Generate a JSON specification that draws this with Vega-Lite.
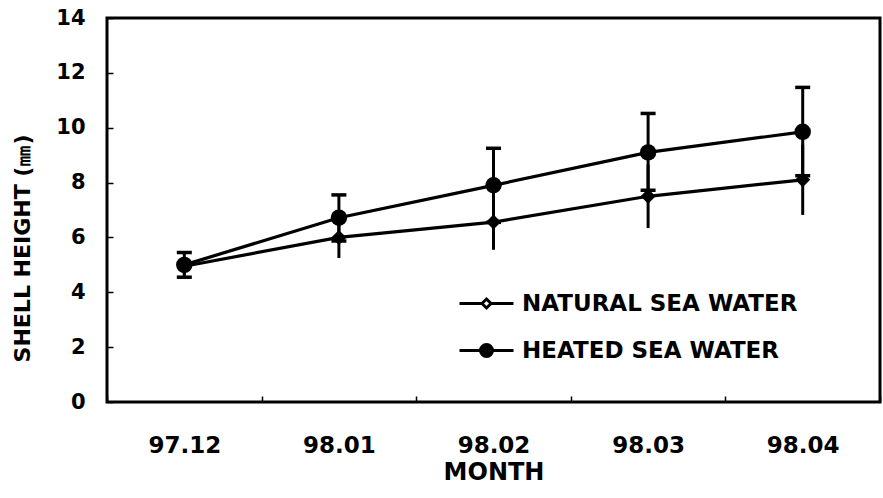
{
  "$schema": "https://vega.github.io/schema/vega-lite/v6.json",
  "autosize": {"type": "none"},
  "padding": {"left": 107, "top": 18, "right": 3, "bottom": 96},
  "width": 773,
  "height": 384,
  "background": "white",
  "config": {
    "view": {"stroke": "black", "strokeWidth": 3},
    "axis": {"grid": false, "domain": false, "labelFont": "DejaVu Sans", "titleFont": "DejaVu Sans", "labelFontWeight": "bold", "titleFontWeight": "bold", "labelColor": "black", "titleColor": "black", "tickColor": "black"},
    "legend": {"labelFont": "DejaVu Sans", "labelFontWeight": "bold", "labelColor": "black", "symbolStrokeColor": "black", "symbolStrokeWidth": 3, "symbolOpacity": 1}
  },
  "data": {
    "values": [
      {"month": "97.12", "series": "HEATED SEA WATER", "mean": 5.0, "lo": 4.55, "hi": 5.45},
      {"month": "98.01", "series": "HEATED SEA WATER", "mean": 6.72, "lo": 5.87, "hi": 7.55},
      {"month": "98.02", "series": "HEATED SEA WATER", "mean": 7.9, "lo": 6.55, "hi": 9.25},
      {"month": "98.03", "series": "HEATED SEA WATER", "mean": 9.1, "lo": 7.72, "hi": 10.52},
      {"month": "98.04", "series": "HEATED SEA WATER", "mean": 9.85, "lo": 8.25, "hi": 11.47},
      {"month": "97.12", "series": "NATURAL SEA WATER", "mean": 4.95, "lo": 4.65, "hi": 5.25},
      {"month": "98.01", "series": "NATURAL SEA WATER", "mean": 6.0, "lo": 5.25, "hi": 6.75},
      {"month": "98.02", "series": "NATURAL SEA WATER", "mean": 6.56, "lo": 5.55, "hi": 7.55},
      {"month": "98.03", "series": "NATURAL SEA WATER", "mean": 7.5, "lo": 6.34, "hi": 8.66},
      {"month": "98.04", "series": "NATURAL SEA WATER", "mean": 8.1, "lo": 6.82, "hi": 9.38}
    ]
  },
  "encoding": {
    "x": {
      "field": "month", "type": "nominal",
      "scale": {"paddingInner": 0, "paddingOuter": 0},
      "axis": {
        "title": "MONTH", "labelAngle": 0, "labelFontSize": 23, "titleFontSize": 24,
        "tickBand": "extent", "tickSize": -6, "tickWidth": 1.5,
        "labelBaseline": "alphabetic", "labelPadding": 56,
        "titleBaseline": "alphabetic", "titleY": 77
      }
    },
    "y": {
      "type": "quantitative",
      "scale": {"domain": [0, 14], "nice": false},
      "axis": {
        "title": "SHELL HEIGHT (㎜)", "values": [0, 2, 4, 6, 8, 10, 12, 14],
        "labelFontSize": 21, "titleFontSize": 22, "tickSize": -6, "tickWidth": 1.5,
        "labelPadding": 28, "titleX": -85, "titleY": 230, "titleBaseline": "middle"
      }
    }
  },
  "layer": [
    {
      "mark": {"type": "line", "color": "black", "strokeWidth": 3.2},
      "encoding": {"y": {"field": "mean"}, "detail": {"field": "series"}}
    },
    {
      "transform": [{"filter": "datum.series === 'NATURAL SEA WATER'"}],
      "mark": {"type": "point", "shape": "diamond", "color": "black", "filled": true, "opacity": 1, "size": 225},
      "encoding": {"y": {"field": "mean"}}
    },
    {
      "transform": [{"filter": "datum.series === 'HEATED SEA WATER'"}],
      "mark": {"type": "point", "shape": "circle", "color": "black", "filled": true, "opacity": 1, "size": 270},
      "encoding": {"y": {"field": "mean"}}
    },
    {
      "mark": {"type": "rule", "color": "black", "strokeWidth": 3},
      "encoding": {"y": {"field": "lo"}, "y2": {"field": "hi"}, "detail": {"field": "series"}}
    },
    {
      "transform": [{"filter": "datum.series === 'HEATED SEA WATER'"}],
      "mark": {"type": "tick", "color": "black", "size": 15, "thickness": 3.5, "opacity": 1},
      "encoding": {"y": {"field": "hi"}}
    },
    {
      "transform": [{"filter": "datum.series === 'HEATED SEA WATER'"}],
      "mark": {"type": "tick", "color": "black", "size": 15, "thickness": 3.5, "opacity": 1},
      "encoding": {"y": {"field": "lo"}}
    },
    {
      "transform": [{"filter": "datum.mean < 0"}],
      "mark": {"type": "point", "filled": true, "strokeWidth": 3, "opacity": 1},
      "encoding": {
        "y": {"field": "mean"},
        "shape": {
          "field": "series", "type": "nominal",
          "scale": {"domain": ["NATURAL SEA WATER", "HEATED SEA WATER"], "range": ["M-2.7,0H-0.45M0.45,0H2.7M0,-0.45L0.45,0L0,0.45L-0.45,0Z", "M-2.7,0H-0.6M0.6,0H2.7M-0.6,0A0.6,0.6,0,1,0,0.6,0A0.6,0.6,0,1,0,-0.6,0Z"]},
          "legend": {
            "title": null, "orient": "none", "legendX": 368, "legendY": 274,
            "padding": 0, "labelFontSize": 23, "labelLimit": 500, "symbolSize": 400, "labelOffset": 24,
            "rowPadding": 22, "symbolStrokeWidth": 3
          }
        },
        "fill": {
          "field": "series", "type": "nominal",
          "scale": {"domain": ["NATURAL SEA WATER", "HEATED SEA WATER"], "range": ["white", "black"]}
        },
        "stroke": {
          "field": "series", "type": "nominal",
          "scale": {"domain": ["NATURAL SEA WATER", "HEATED SEA WATER"], "range": ["black", "black"]}
        }
      }
    }
  ]
}
